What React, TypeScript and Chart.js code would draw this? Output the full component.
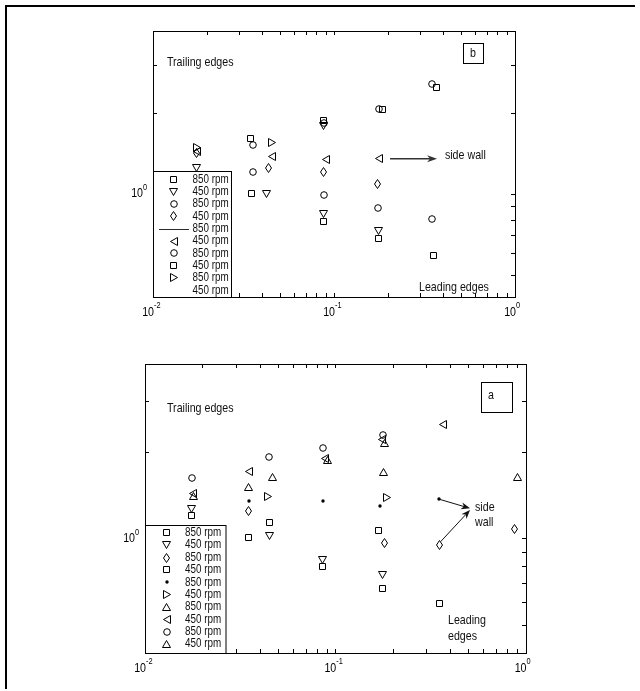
import React, { useEffect, useRef } from "react";
import { Chart, registerables } from "chart.js";

Chart.register(...registerables);

const FONT = '"Liberation Sans", Arial, sans-serif';
const NARROW = 0.82;

// ---------------- Panel (b) : upper chart ----------------
const bSq850X = [0.0351, 0.0877, 0.176, 0.353];
const bSq850Y = [1.0, 0.789, 0.684, 0.588];
const bDown450X = [0.0175, 0.0423, 0.0877, 0.0877, 0.177];
const bDown450Y = [1.25, 1.0, 1.78, 0.843, 0.727];
const bCircLow850X = [0.0355, 0.0877, 0.175, 0.349];
const bCircLow850Y = [1.2, 0.986, 0.887, 0.807];
const bDiam450X = [0.0175, 0.0435, 0.0877, 0.175];
const bDiam450Y = [1.42, 1.25, 1.2, 1.09];
const bLine850X: number[] = [];
const bLine850Y: number[] = [];
const bLeft450X = [0.0174, 0.0456, 0.0903, 0.177];
const bLeft450Y = [1.44, 1.37, 1.34, 1.35];
const bCircHigh850X = [0.0355, 0.0885, 0.1766, 0.348];
const bCircHigh850Y = [1.52, 1.83, 2.06, 2.55];
const bSq450X = [0.0347, 0.087, 0.186, 0.369];
const bSq450Y = [1.6, 1.88, 2.06, 2.48];
const bRight850X = [0.0175, 0.0456];
const bRight850Y = [1.49, 1.55];
const bNone450X: number[] = [];
const bNone450Y: number[] = [];

const bKinds = ["square", "down", "circle", "diamond", "line", "left", "circle", "square", "right", "none"];
const bLabels = ["850 rpm", "450 rpm", "850 rpm", "450 rpm", "850 rpm", "450 rpm", "850 rpm", "450 rpm", "850 rpm", "450 rpm"];

// ---------------- Panel (a) : lower chart ----------------
const aSq850X = [0.0176, 0.0449, 0.169];
const aSq850Y = [1.2, 1.14, 1.07];
const aDown450X = [0.0176, 0.0449, 0.0862, 0.178];
const aDown450Y = [1.27, 1.02, 0.845, 0.745];
const aDiam850X = [0.0348, 0.182, 0.355, 0.875];
const aDiam850Y = [1.25, 0.968, 0.953, 1.077];
const aSq450X = [0.0348, 0.0862, 0.178, 0.355];
const aSq450Y = [1.01, 0.797, 0.668, 0.594];
const aDot850X = [0.0352, 0.0862, 0.172, 0.351];
const aDot850Y = [1.345, 1.35, 1.3, 1.37];
const aRight450X = [0.0444, 0.186];
const aRight450Y = [1.395, 1.39];
const aUp850X = [0.0348, 0.0905, 0.179, 0.91];
const aUp850Y = [1.51, 1.87, 1.7, 1.64];
const aLeft450X = [0.0178, 0.0352, 0.0885, 0.176, 0.368];
const aLeft450Y = [1.43, 1.71, 1.89, 2.2, 2.49];
const aCirc850X = [0.0176, 0.0449, 0.0862, 0.179];
const aCirc850Y = [1.62, 1.92, 2.06, 2.29];
const aUp450X = [0.018, 0.0466, 0.182];
const aUp450Y = [1.41, 1.63, 2.14];

const aKinds = ["square", "down", "diamond", "square", "dot", "right", "up", "left", "circle", "up"];
const aLabels = ["850 rpm", "450 rpm", "850 rpm", "450 rpm", "850 rpm", "450 rpm", "850 rpm", "450 rpm", "850 rpm", "450 rpm"];

// ---------------- Axis ticks ----------------
const xMinorTicks = [0.02, 0.03, 0.04, 0.05, 0.06, 0.07, 0.08, 0.09, 0.1, 0.2, 0.3, 0.4, 0.5, 0.6, 0.7, 0.8, 0.9];
const xDecades = [0.01, 0.1, 1];
const xDecadeExp = ["-2", "-1", "0"];
const yTicks = [0.5, 0.6, 0.7, 0.8, 0.9, 1, 2, 3];

type Txt = { text: string; x: number; y: number; align?: CanvasTextAlign };
type Arrow = { x1: number; y1: number; x2: number; y2: number; head: number; hw: number; lw: number; color: string };

interface PanelCfg {
  xs: number[][];
  ys: number[][];
  kinds: string[];
  labels: string[];
  yMin: number;
  yMax: number;
  padding: { left: number; top: number; right: number; bottom: number };
  legend: { width: number; height: number; row0: number; step: number; markerX: number; textX: number };
  texts: Txt[];
  arrows: Arrow[];
  tag: { label: string; x1: number; y1: number; x2: number; y2: number; tx: number; ty: number };
}

function makeMarker(kind: string): HTMLCanvasElement | null {
  if (kind === "none" || kind === "line") return null;
  const c = document.createElement("canvas");
  const size: Record<string, [number, number]> = {
    square: [7, 7],
    circle: [8, 8],
    up: [9, 8],
    down: [9, 8],
    left: [8, 9],
    right: [8, 9],
    diamond: [7, 10],
    dot: [4, 4],
  };
  const [w, h] = size[kind];
  c.width = w;
  c.height = h;
  const ctx = c.getContext("2d")!;
  ctx.strokeStyle = "#000";
  ctx.fillStyle = "#000";
  ctx.lineWidth = 1;
  ctx.beginPath();
  switch (kind) {
    case "square":
      ctx.rect(0.5, 0.5, 6, 6);
      break;
    case "circle":
      ctx.arc(4, 4, 3.3, 0, Math.PI * 2);
      break;
    case "up":
      ctx.moveTo(4.5, 0.5);
      ctx.lineTo(8.5, 7.5);
      ctx.lineTo(0.5, 7.5);
      ctx.closePath();
      break;
    case "down":
      ctx.moveTo(0.5, 0.5);
      ctx.lineTo(8.5, 0.5);
      ctx.lineTo(4.5, 7.5);
      ctx.closePath();
      break;
    case "left":
      ctx.moveTo(0.5, 4.5);
      ctx.lineTo(7.5, 0.5);
      ctx.lineTo(7.5, 8.5);
      ctx.closePath();
      break;
    case "right":
      ctx.moveTo(7.5, 4.5);
      ctx.lineTo(0.5, 0.5);
      ctx.lineTo(0.5, 8.5);
      ctx.closePath();
      break;
    case "diamond":
      ctx.moveTo(3.5, 0.5);
      ctx.lineTo(6.5, 5);
      ctx.lineTo(3.5, 9.5);
      ctx.lineTo(0.5, 5);
      ctx.closePath();
      break;
    case "dot":
      ctx.arc(2, 2, 1.7, 0, Math.PI * 2);
      ctx.fill();
      return c;
  }
  ctx.stroke();
  return c;
}

function narrowText(ctx: CanvasRenderingContext2D, text: string, x: number, y: number, align: CanvasTextAlign) {
  ctx.save();
  ctx.translate(x, y);
  ctx.scale(NARROW, 1);
  ctx.textAlign = align;
  ctx.fillText(text, 0, 0);
  ctx.restore();
}

function drawArrow(ctx: CanvasRenderingContext2D, x1: number, y1: number, x2: number, y2: number, head: number, hw: number, lw: number, color: string) {
  const ang = Math.atan2(y2 - y1, x2 - x1);
  const c = Math.cos(ang);
  const s = Math.sin(ang);
  ctx.strokeStyle = color;
  ctx.fillStyle = color;
  ctx.lineWidth = lw;
  ctx.beginPath();
  ctx.moveTo(x1, y1);
  ctx.lineTo(x2 - c * head * 0.7, y2 - s * head * 0.7);
  ctx.stroke();
  ctx.beginPath();
  ctx.moveTo(x2, y2);
  ctx.lineTo(x2 - c * head - s * hw, y2 - s * head + c * hw);
  ctx.lineTo(x2 - c * head * 0.7, y2 - s * head * 0.7);
  ctx.lineTo(x2 - c * head + s * hw, y2 - s * head - c * hw);
  ctx.closePath();
  ctx.fill();
}

function overlay(cfg: PanelCfg, markers: (HTMLCanvasElement | null)[]) {
  return {
    id: "overlay",
    beforeDatasetsDraw(chart: any) {
      chart.ctx.save();
      chart.ctx.imageSmoothingEnabled = false;
    },
    afterDatasetsDraw(chart: any) {
      chart.ctx.restore();
    },
    afterDraw(chart: any) {
      const ctx: CanvasRenderingContext2D = chart.ctx;
      const a = chart.chartArea;
      const xs = chart.scales.x;
      const ys = chart.scales.y;
      const L = Math.round(a.left);
      const R = Math.round(a.right);
      const T = Math.round(a.top);
      const B = Math.round(a.bottom);
      const TL = 4;
      ctx.save();
      ctx.strokeStyle = "#000";
      ctx.lineWidth = 1;
      // ticks (inward on all sides)
      ctx.beginPath();
      for (const v of xMinorTicks) {
        const px = Math.round(xs.getPixelForValue(v)) + 0.5;
        ctx.moveTo(px, B);
        ctx.lineTo(px, B - TL);
        ctx.moveTo(px, T);
        ctx.lineTo(px, T + TL);
      }
      for (const v of yTicks) {
        const py = Math.round(ys.getPixelForValue(v)) + 0.5;
        ctx.moveTo(L, py);
        ctx.lineTo(L + TL, py);
        ctx.moveTo(R, py);
        ctx.lineTo(R - TL, py);
      }
      ctx.stroke();
      ctx.strokeRect(L + 0.5, T + 0.5, R - L, B - T);

      // annotations
      ctx.fillStyle = "#111";
      ctx.font = `13px ${FONT}`;
      ctx.textBaseline = "middle";
      for (const t of cfg.texts) {
        narrowText(ctx, t.text, xs.getPixelForValue(t.x), ys.getPixelForValue(t.y), t.align || "left");
      }
      for (const ar of cfg.arrows) {
        drawArrow(
          ctx,
          xs.getPixelForValue(ar.x1),
          ys.getPixelForValue(ar.y1),
          xs.getPixelForValue(ar.x2),
          ys.getPixelForValue(ar.y2),
          ar.head,
          ar.hw,
          ar.lw,
          ar.color
        );
      }
      // tag box
      const tg = cfg.tag;
      const tx1 = Math.round(xs.getPixelForValue(tg.x1)) + 0.5;
      const tx2 = Math.round(xs.getPixelForValue(tg.x2)) + 0.5;
      const ty1 = Math.round(ys.getPixelForValue(tg.y1)) + 0.5;
      const ty2 = Math.round(ys.getPixelForValue(tg.y2)) + 0.5;
      ctx.fillStyle = "#fff";
      ctx.fillRect(tx1, ty2, tx2 - tx1, ty1 - ty2);
      ctx.strokeStyle = "#000";
      ctx.lineWidth = 1;
      ctx.strokeRect(tx1, ty2, tx2 - tx1, ty1 - ty2);
      ctx.fillStyle = "#111";
      narrowText(ctx, tg.label, xs.getPixelForValue(tg.tx), ys.getPixelForValue(tg.ty), "center");

      // legend
      const lg = cfg.legend;
      const lx = L + 0.5;
      const lyTop = B - lg.height + 0.5;
      ctx.fillStyle = "#fff";
      ctx.fillRect(lx, lyTop, lg.width, lg.height);
      ctx.strokeStyle = "#000";
      ctx.strokeRect(lx, lyTop, lg.width, lg.height);
      ctx.save();
      ctx.beginPath();
      ctx.rect(lx, lyTop, lg.width, lg.height);
      ctx.clip();
      ctx.font = `12px ${FONT}`;
      ctx.textBaseline = "middle";
      cfg.labels.forEach((lab, i) => {
        const cy = lyTop + lg.row0 + i * lg.step;
        const m = markers[i];
        if (m) {
          ctx.drawImage(m, Math.round(L + lg.markerX - m.width / 2), Math.round(cy - m.height / 2));
        } else if (cfg.kinds[i] === "line") {
          ctx.strokeStyle = "#5a0a5a";
          ctx.lineWidth = 1;
          ctx.beginPath();
          ctx.moveTo(L + 6, Math.round(cy) + 0.5);
          ctx.lineTo(L + 36, Math.round(cy) + 0.5);
          ctx.stroke();
        }
        ctx.fillStyle = "#111";
        narrowText(ctx, lab, L + lg.textX, cy, "left");
      });
      ctx.restore();

      // tick labels
      ctx.fillStyle = "#000";
      ctx.textBaseline = "middle";
      xDecades.forEach((v, i) => {
        const px = xs.getPixelForValue(v);
        ctx.font = `13px ${FONT}`;
        narrowText(ctx, "10", px + 1, B + 15, "right");
        ctx.font = `9px ${FONT}`;
        narrowText(ctx, xDecadeExp[i], px + 1, B + 9, "left");
      });
      const py1 = ys.getPixelForValue(1);
      ctx.font = `13px ${FONT}`;
      narrowText(ctx, "10", L - 10, py1, "right");
      ctx.font = `9px ${FONT}`;
      narrowText(ctx, "0", L - 10, py1 - 6, "left");
      ctx.restore();
    },
  };
}

function buildChart(canvas: HTMLCanvasElement, cfg: PanelCfg) {
  const markers = cfg.kinds.map((k) => makeMarker(k));
  const datasets = cfg.xs.map((xArr, i) => ({
    label: cfg.labels[i],
    data: xArr.map((x, j) => ({ x, y: cfg.ys[i][j] })),
    pointStyle: (markers[i] || "circle") as any,
    pointRadius: markers[i] ? 4 : 0,
    showLine: false,
    borderColor: "#000",
    backgroundColor: "#000",
    clip: false as any,
  }));
  return new Chart(canvas, {
    type: "scatter",
    data: { datasets },
    options: {
      responsive: false,
      animation: false,
      events: [],
      layout: { padding: cfg.padding },
      plugins: { legend: { display: false }, tooltip: { enabled: false } },
      scales: {
        x: { type: "logarithmic", min: 0.01, max: 1, display: false },
        y: { type: "logarithmic", min: cfg.yMin, max: cfg.yMax, display: false },
      },
    },
    plugins: [overlay(cfg, markers)],
  } as any);
}

const topCfg: PanelCfg = {
  xs: [bSq850X, bDown450X, bCircLow850X, bDiam450X, bLine850X, bLeft450X, bCircHigh850X, bSq450X, bRight850X, bNone450X],
  ys: [bSq850Y, bDown450Y, bCircLow850Y, bDiam450Y, bLine850Y, bLeft450Y, bCircHigh850Y, bSq450Y, bRight850Y, bNone450Y],
  kinds: bKinds,
  labels: bLabels,
  yMin: 0.413,
  yMax: 4.03,
  padding: { left: 153, top: 31, right: 125, bottom: 48 },
  legend: { width: 78, height: 126, row0: 8, step: 12.3, markerX: 20.5, textX: 39.5 },
  texts: [
    { text: "Trailing edges", x: 0.01194, y: 3.07 },
    { text: "Leading edges", x: 0.2948, y: 0.448 },
    { text: "side wall", x: 0.41, y: 1.385 },
  ],
  arrows: [{ x1: 0.204, y1: 1.349, x2: 0.371, y2: 1.349, head: 10, hw: 3.5, lw: 1.5, color: "#333" }],
  tag: { label: "b", x1: 0.516, y1: 3.07, x2: 0.665, y2: 3.64, tx: 0.585, ty: 3.33 },
};

const bottomCfg: PanelCfg = {
  xs: [aSq850X, aDown450X, aDiam850X, aSq450X, aDot850X, aRight450X, aUp850X, aLeft450X, aCirc850X, aUp450X],
  ys: [aSq850Y, aDown450Y, aDiam850Y, aSq450Y, aDot850Y, aRight450Y, aUp850Y, aLeft450Y, aCirc850Y, aUp450Y],
  kinds: aKinds,
  labels: aLabels,
  yMin: 0.4,
  yMax: 4.04,
  padding: { left: 145, top: 19, right: 114.5, bottom: 38 },
  legend: { width: 80.5, height: 128, row0: 7.3, step: 12.35, markerX: 21.7, textX: 40 },
  texts: [
    { text: "Trailing edges", x: 0.01305, y: 2.84 },
    { text: "Leading", x: 0.3914, y: 0.521 },
    { text: "edges", x: 0.3914, y: 0.458 },
    { text: "side", x: 0.5427, y: 1.28 },
    { text: "wall", x: 0.5427, y: 1.135 },
  ],
  arrows: [
    { x1: 0.351, y1: 1.37, x2: 0.511, y2: 1.273, head: 9, hw: 3.5, lw: 1, color: "#111" },
    { x1: 0.358, y1: 0.975, x2: 0.511, y2: 1.256, head: 9, hw: 3.5, lw: 1, color: "#111" },
  ],
  tag: { label: "a", x1: 0.5836, y1: 2.745, x2: 0.849, y2: 3.506, tx: 0.659, ty: 3.13 },
};

export default function App() {
  const topRef = useRef<HTMLCanvasElement>(null);
  const botRef = useRef<HTMLCanvasElement>(null);

  useEffect(() => {
    const c1 = buildChart(topRef.current!, topCfg);
    const c2 = buildChart(botRef.current!, bottomCfg);
    return () => {
      c1.destroy();
      c2.destroy();
    };
  }, []);

  return (
    <div>
      <div
        style={{
          position: "absolute",
          left: 5,
          top: 5,
          width: 630,
          height: 684,
          borderLeft: "2px solid #000",
          borderTop: "2px solid #000",
          boxSizing: "border-box",
        }}
      />
      <canvas
        ref={topRef}
        width={640}
        height={345}
        style={{ position: "absolute", left: 0, top: 0, width: 640, height: 345 }}
      />
      <canvas
        ref={botRef}
        width={640}
        height={346}
        style={{ position: "absolute", left: 0, top: 345, width: 640, height: 346 }}
      />
    </div>
  );
}
